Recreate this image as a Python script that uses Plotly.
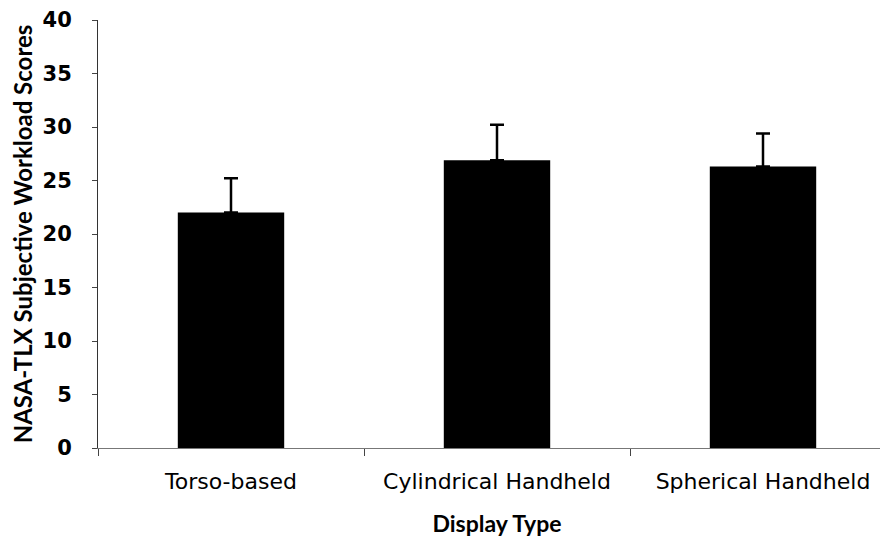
import plotly.graph_objects as go

categories = ["Torso-based", "Cylindrical Handheld", "Spherical Handheld"]
means = [22.0, 26.9, 26.3]
errors_plus = [3.2, 3.3, 3.1]
y_ticks = [0, 5, 10, 15, 20, 25, 30, 35, 40]

fig = go.Figure()
fig.add_trace(go.Bar(
    x=categories,
    y=means,
    width=0.4,
    marker=dict(color="black", line=dict(width=0)),
    error_y=dict(type="data", symmetric=False, array=errors_plus,
                 arrayminus=[0, 0, 0], color="black", thickness=2.5, width=7),
))

# the page body has an 8px default margin, so margins are offset by 8px
fig.update_layout(
    width=888, height=539,
    margin=dict(l=90, r=0, t=12, b=99, autoexpand=False),
    paper_bgcolor="white", plot_bgcolor="white",
    showlegend=False,
    font=dict(family="DejaVu Sans", color="black"),
    xaxis=dict(
        range=[-0.5, 2.5], automargin=False,
        showline=True, linecolor="#777", linewidth=1,
        ticks="outside", tickson="boundaries", ticklen=7, tickcolor="#444",
        tickfont=dict(size=22, family="DejaVu Sans", color="black"),
        ticklabelstandoff=14,
        title=dict(text="Display Type", font=dict(size=23, family="Lato", weight="bold", color="black"), standoff=22),
    ),
    yaxis=dict(
        range=[0, 40], tickvals=y_ticks, automargin=False,
        showline=True, linecolor="#333", linewidth=1,
        ticks="outside", ticklen=5, tickcolor="#444",
        showgrid=False, zeroline=False,
        tickfont=dict(size=21, family="DejaVu Sans", weight="bold", color="black"),
        ticklabelstandoff=16,
        title=dict(text="NASA-TLX Subjective Workload Scores", font=dict(size=24, family="Lato", weight="bold", color="black"), standoff=6),
    ),
)
fig.write_html("out.html")
